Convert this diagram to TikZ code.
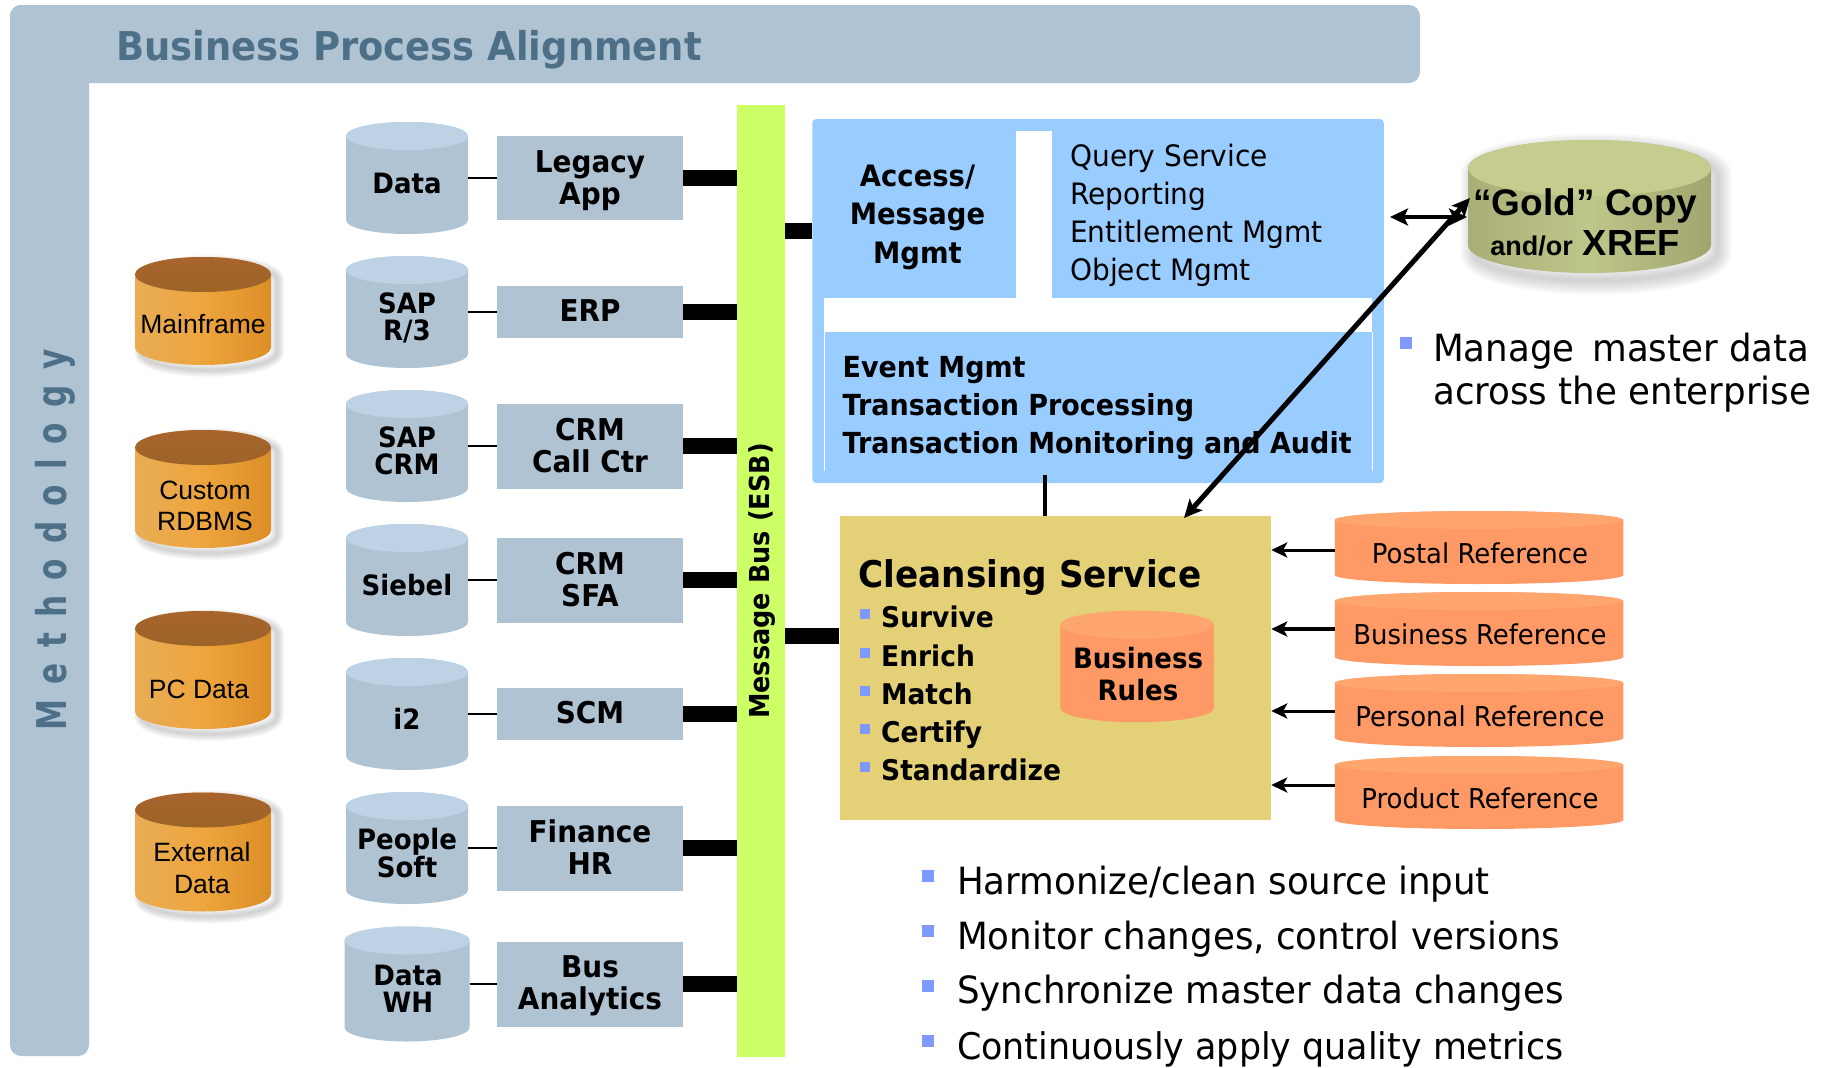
\documentclass[tikz,border=0pt]{standalone}
\usepackage{fontspec}
\usetikzlibrary{arrows.meta,calc}
\setmainfont{DejaVu Sans}[FakeStretch=0.93]
\newfontfamily\rg{DejaVu Sans}[FakeStretch=0.95]
\newfontfamily\mth{DejaVu Sans}[FakeStretch=0.76]
\newfontfamily\arl{Liberation Sans}
\definecolor{steel}{HTML}{AFC3D3}
\definecolor{steeltop}{HTML}{BDD3E5}
\definecolor{titlec}{HTML}{4D7088}
\definecolor{busc}{HTML}{CCFF66}
\definecolor{bluec}{HTML}{99CCFF}
\definecolor{cleanc}{HTML}{E3D077}
\definecolor{orc}{HTML}{FF9966}
\definecolor{ortop}{HTML}{FFA56E}
\definecolor{bulc}{HTML}{8099FF}
\definecolor{srcl}{HTML}{E8AD55}
\definecolor{srcm}{HTML}{EEA53E}
\definecolor{srcr}{HTML}{DC8E26}
\definecolor{srct}{HTML}{A8642C}
\definecolor{srctb}{HTML}{9C6428}
\definecolor{goldl}{HTML}{A9AE76}
\definecolor{goldm}{HTML}{BFC68A}
\definecolor{goldr}{HTML}{A0A56E}
\definecolor{goldt}{HTML}{C5CC8E}
\newcommand\fs[2]{\fontsize{#1}{#2}\selectfont}
\tikzset{
  x=1pt,y=-1pt,
  cyl/.style n args={3}{rectangle,inner sep=0pt,path picture={
    \path[#1] let \p1=(path picture bounding box.south west),\p2=(path picture bounding box.north east),\n1={(\x2-\x1)/2} in
      (\x1,\y2-#3) -- (\x1,\y1+#3) arc[start angle=180,end angle=360,x radius=\n1,y radius=#3]
      -- (\x2,\y2-#3) arc[start angle=0,end angle=180,x radius=\n1,y radius=#3] -- cycle;
    \path[#2] let \p1=(path picture bounding box.south west),\p2=(path picture bounding box.north east),\n1={(\x2-\x1)/2},\n2={(\x1+\x2)/2} in
      (\n2,\y2-#3) ellipse[x radius=\n1,y radius=#3];
  }},
  steelcyl/.style={cyl={fill=steel}{fill=steeltop}{14pt},minimum width=122pt},
  oracyl/.style={cyl={left color=srcl,right color=srcr,middle color=srcm}{top color=srct,bottom color=srctb}{17.5pt},minimum width=136pt},
  refcyl/.style={cyl={fill=orc}{fill=ortop}{9pt},minimum width=288.5pt},
  appbox/.style={rectangle,fill=steel,inner sep=0pt,minimum width=186.5pt},
  blab/.style={font=\bfseries\fs{28}{27},align=center,inner sep=0pt},
  alab/.style={font=\bfseries\fs{30}{32},align=center,inner sep=0pt},
  olab/.style={font=\arl\fs{26.5}{31.5},align=center,inner sep=0pt},
  reflab/.style={font=\rg\fs{27.3}{30},inner sep=0pt},
  qlab/.style={font=\rg\fs{29.5}{38},align=left,inner sep=0pt,anchor=west},
  elab/.style={font=\bfseries\fs{29}{38},align=left,inner sep=0pt,anchor=west},
  slab/.style={font=\bfseries\fs{28.5}{30},inner sep=0pt,anchor=base west},
  tlab/.style={font=\rg\fs{37.5}{44},inner sep=0pt,anchor=base west},
  bulmark/.style={rectangle,fill=bulc,inner sep=0pt},
  thinlink/.style={line width=2.4pt},
  thicklink/.style={line width=16pt},
  refarrow/.style={-{Stealth[length=16pt,width=15pt,inset=4pt]}},
  bothway/.style={{Stealth[length=18pt,width=17pt,inset=4pt]}-{Stealth[length=18pt,width=17pt,inset=4pt]}},
}
\newcommand\cshadow[6]{% cx cy W H ry spread
  \begin{scope}[shift={(#1,#2)}]
  \foreach \w in {14,12,10,8,6,4,2}{
    \path[draw=black!60,line width=#6*\w pt,draw opacity=.045,line join=round]
      ({-(#3)/2},{(#4)/2-(#5)}) arc[start angle=180,end angle=360,x radius=#3/2*1pt,y radius=#5*1pt]
      -- ({(#3)/2},{-(#4)/2+(#5)}) arc[start angle=0,end angle=180,x radius=#3/2*1pt,y radius=#5*1pt] -- cycle;
  }
  \end{scope}}
\begin{document}
\begin{tikzpicture}
\useasboundingbox (0,0) rectangle (1824,1068);
\fill[white] (0,0) rectangle (1824,1068);
% frame
\fill[steel,rounded corners=11pt] (10,5) rectangle (1420,83);
\fill[steel,rounded corners=11pt] (10,5) rectangle (89,1056);
\fill[steel] (60,40) rectangle (89,83);
\node[font=\bfseries\fs{39.7}{44},text=titlec,inner sep=0pt,anchor=base west] (title) at (116,60) {Business Process Alignment};
\node[font=\mth\bfseries\fs{41}{44}\addfontfeature{LetterSpace=37},text=titlec,inner sep=0pt,rotate=90,anchor=base] (method) at (66,540) {Methodology};
% bus
\node[rectangle,fill=busc,inner sep=0pt,minimum width=47.5pt,minimum height=952pt] (bus) at (761,581) {};
\node[font=\bfseries\fs{27.5}{30},inner sep=0pt,rotate=90] (bustext) at (762,581) {Message Bus (ESB)};
% source cylinders
\foreach \nm/\c in {cd/178,cs/312,cc/446,cb/580,ci/714,cp/848}{
  \node[steelcyl,minimum height=112pt] (\nm) at (407,\c) {};}
\node[steelcyl,minimum height=115pt,minimum width=125pt] (cw) at (407,984) {};
\node[blab] (td) at (407,183) {Data};
\node[blab] (ts) at (407,318) {SAP\\R/3};
\node[blab] (tc) at (407,450.5) {SAP\\CRM};
\node[blab] (tb) at (407,585) {Siebel};
\node[blab] (ti) at (407,719) {i2};
\node[blab] (tp) at (407,853) {People\\Soft};
\node[blab] (tw) at (408,989) {Data\\WH};
% app boxes
\node[appbox,minimum height=84pt] (legacy) at (590,178) {};
\node[appbox,minimum height=52pt] (erp) at (590,312) {};
\node[appbox,minimum height=85pt] (callc) at (590,446) {};
\node[appbox,minimum height=85pt] (sfa) at (590,580) {};
\node[appbox,minimum height=52pt] (scm) at (590,714) {};
\node[appbox,minimum height=85pt] (fin) at (590,848) {};
\node[appbox,minimum height=85pt] (ana) at (590,984) {};
\node[alab] (tlegacy) at (590,180.5) {Legacy\\App};
\node[alab] (terp) at (590,311) {ERP};
\node[alab] (tcall) at (590,445.5) {CRM\\Call Ctr};
\node[alab] (tsfa) at (590,579.5) {CRM\\SFA};
\node[alab] (tscm) at (590,713) {SCM};
\node[alab] (tfin) at (590,847.5) {Finance\\HR};
\node[alab] (tana) at (590,985.5) {Bus\\Analytics};
\foreach \s/\a in {cd/legacy,cs/erp,cc/callc,cb/sfa,ci/scm,cp/fin,cw/ana}{
  \draw[thinlink] (\s.east) -- (\s.east -| \a.west);
  \draw[thicklink] (\a.east) -- (\a.east -| bus.west);
}
% orange sources
\cshadow{209}{316}{136}{108}{17.5}{1}
\cshadow{209}{494}{136}{118}{17.5}{1}
\cshadow{209}{675}{136}{118}{17.5}{1}
\cshadow{209}{857}{136}{119}{17.5}{1}
\node[oracyl,minimum height=108pt] (main) at (203,311) {};
\node[oracyl,minimum height=118pt] (cust) at (203,489) {};
\node[oracyl,minimum height=118pt] (pc) at (203,670) {};
\node[oracyl,minimum height=119pt] (ext) at (203,852) {};
\node[olab] (tmain) at (203,324) {Mainframe};
\node[olab] (tcust) at (205,506) {Custom\\RDBMS};
\node[olab] (tpc) at (199,689) {PC Data};
\node[olab] (text) at (202,868) {External\\Data};
% services block
\node[rectangle,fill=bluec,rounded corners=4pt,inner sep=0pt,minimum width=571.5pt,minimum height=364pt] (blue) at (1098,301) {};
\fill[white] (1016,131) rectangle (1052,298);
\fill[white] (824,298) rectangle (1372,332);
\draw[white,line width=1pt] (824,332) -- (824,471) (1372,332) -- (1372,471);
\node[alab,font=\bfseries\fs{29.5}{38.5}] (access) at (917.5,217) {Access/\\Message\\Mgmt};
\node[qlab] (query) at (1070,215) {Query Service\\Reporting\\Entitlement Mgmt\\Object Mgmt};
\node[elab] (event) at (842.5,408.5) {Event Mgmt\\Transaction Processing\\Transaction Monitoring and Audit};
\draw[thicklink] (bus.east |- 0,231) -- (blue.west |- 0,231);
% cleansing
\node[rectangle,fill=cleanc,inner sep=0pt,minimum width=431.5pt,minimum height=304pt] (clean) at (1055.25,668) {};
\coordinate (cin) at (clean.west |- 0,636);
\draw[thicklink] (bus.east |- cin) -- (cin);
\coordinate (evb) at (1045,475);
\draw[line width=3.5pt] (evb) -- (evb |- clean.north);
\node[font=\bfseries\fs{36.8}{40},inner sep=0pt,anchor=base west] (cst) at (858.5,587) {Cleansing Service};
\foreach \nm/\t/\b in {a/Survive/627,b/Enrich/666,c/Match/704,d/Certify/742,e/Standardize/780}{
  \node[slab] (l\nm) at (881,\b) {\t};
  \node[bulmark,minimum size=10pt] (m\nm) at (865,\b-13) {};
}
\node[cyl={fill=orc}{fill=ortop}{14pt},minimum width=153.5pt,minimum height=111.5pt] (rules) at (1137,666.5) {};
\node[blab,font=\bfseries\fs{28}{32.5}] (trules) at (1138,674) {Business\\Rules};
% references
\node[refcyl,minimum height=73pt] (r1) at (1479,547.5) {};
\node[refcyl,minimum height=74pt] (r2) at (1479,629) {};
\node[refcyl,minimum height=73pt] (r3) at (1479,710.5) {};
\node[refcyl,minimum height=73pt] (r4) at (1479,792.5) {};
\node[reflab] (t1) at (1480,553) {Postal Reference};
\node[reflab] (t2) at (1480,634) {Business Reference};
\node[reflab] (t3) at (1480,716) {Personal Reference};
\node[reflab] (t4) at (1480,798) {Product Reference};
\foreach \r/\y/\w in {r1/550/3,r2/629/4.4,r3/711/3,r4/785/3}{
  \draw[refarrow,line width=\w pt] (\r.west |- 0,\y) -- (clean.east |- 0,\y);
}
% gold
\cshadow{1596}{214}{243}{133}{28}{2}
\node[cyl={left color=goldl,right color=goldr,middle color=goldm}{fill=goldt}{28pt},minimum width=243pt,minimum height=133pt] (gold) at (1589.5,206.5) {};
\node[font=\arl\bfseries\fs{37}{40},inner sep=0pt,anchor=base] (g1) at (1585.5,215) {“Gold” Copy};
\node[font=\arl\bfseries\fs{36.3}{40},inner sep=0pt,anchor=base] (g2) at (1585,255) {{\fs{27}{40}and/or} XREF};
\coordinate (hl) at (1390,217);
\coordinate (hr) at (1467,217);
\draw[bothway,line width=3.5pt] (hl) -- (hr);
\coordinate (dg) at (1470,198);
\coordinate (dc) at (1184,518);
\draw[bothway,line width=5pt] (dg) -- (dc);
% bullets right
\node[bulmark,minimum size=12pt] (mm) at (1406,343) {};
\node[tlab] (tman) at (1433,361) {Manage\, master data};
\node[tlab] (tacr) at (1433,404) {across the enterprise};
\node[tlab] (bh) at (957,894) {Harmonize/clean source input};
\node[tlab] (bm) at (957,949) {Monitor changes, control versions};
\node[tlab] (bs) at (957,1003) {Synchronize master data changes};
\node[tlab,font=\rg\fs{36.7}{44}] (bc) at (957,1059) {Continuously apply quality metrics};
\foreach \nm/\b in {bh/876,bm/931,bs/986,bc/1041}{
  \node[bulmark,minimum size=12pt] (q\nm) at (928,\b) {};
}
\end{tikzpicture}
\end{document}
